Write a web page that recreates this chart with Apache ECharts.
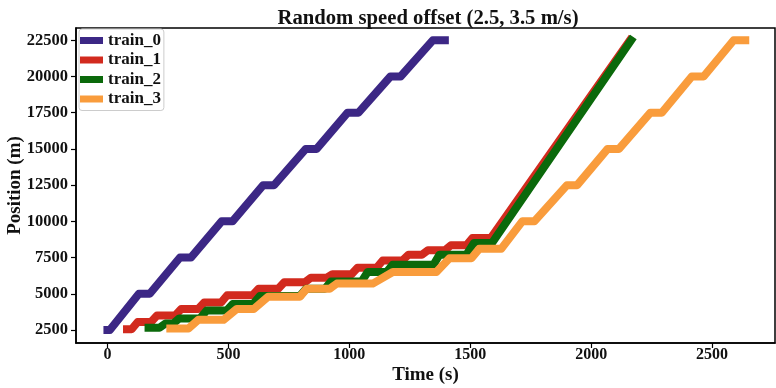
<!DOCTYPE html>
<html lang="en">

<head>
    <meta charset="UTF-8">
    <title>Random speed offset</title>
    <script type="text/javascript" src="https://cdn.jsdelivr.net/npm/echarts@6/dist/echarts.min.js"></script>
    <style>
        html, body { margin: 0; padding: 0; background: #fff; }
    </style>
</head>

<body>
    <div id="main" style="width: 776px;height:388px;"></div>
    <script type="text/javascript">
    // tick labels
    let xTicks = [0, 500, 1000, 1500, 2000, 2500];
    let yTicks = [2500, 5000, 7500, 10000, 12500, 15000, 17500, 20000, 22500];

    let names = ['train_0', 'train_1', 'train_2', 'train_3'];
    let colors = ['#3c2785', '#d22a1e', '#0b690b', '#f99c3c'];

    // time (s) / position (m)
    let train0Time = [0, 10, 130, 175, 300, 345, 472, 517, 644, 689, 820, 865, 993, 1038, 1170, 1212, 1345, 1395];
    let train0Pos = [2500, 2500, 5000, 5000, 7500, 7500, 10000, 10000, 12500, 12500, 15000, 15000, 17500, 17500, 20000, 20000, 22500, 22500];

    let train1Time = [81, 100, 125, 180, 205, 280, 305, 375, 400, 470, 495, 600, 625, 706, 731, 816, 841, 905, 930, 1009, 1034, 1113, 1138, 1220, 1245, 1300, 1325, 1395, 1420, 1484, 1509, 1585, 2160];
    let train1Pos = [2550, 2550, 3050, 3050, 3500, 3500, 3950, 3950, 4400, 4400, 4900, 4900, 5350, 5350, 5800, 5800, 6100, 6100, 6350, 6350, 6800, 6800, 7300, 7300, 7700, 7700, 8000, 8000, 8350, 8350, 8850, 8850, 22500];

    let train2Time = [170, 215, 240, 272, 297, 383, 410, 493, 518, 603, 630, 796, 821, 899, 924, 1051, 1076, 1154, 1179, 1348, 1373, 1484, 1515, 1590, 2165];
    let train2Pos = [2650, 2650, 2950, 2950, 3300, 3300, 3850, 3850, 4300, 4300, 4850, 4850, 5350, 5350, 5850, 5850, 6500, 6500, 7000, 7000, 7700, 7700, 8500, 8500, 22500];

    let train3Time = [260, 335, 376, 480, 535, 605, 664, 796, 824, 919, 948, 1097, 1180, 1360, 1414, 1505, 1537, 1628, 1715, 1765, 1900, 1942, 2068, 2115, 2245, 2292, 2416, 2465, 2589, 2637];
    let train3Pos = [2600, 2600, 3200, 3200, 3950, 3950, 4800, 4800, 5350, 5350, 5700, 5700, 6500, 6500, 7450, 7450, 8100, 8100, 10000, 10000, 12500, 12500, 15000, 15000, 17500, 17500, 20000, 20000, 22500, 22500];

    let times = [train0Time, train1Time, train2Time, train3Time];
    let positions = [train0Pos, train1Pos, train2Pos, train3Pos];

    let font = 'Liberation Serif, Times New Roman, serif';
    let plain = function (v) { return String(v); };

    let myChart = echarts.init(document.getElementById('main'), null, { renderer: 'canvas' });

    let series = names.map(function (name, i) {
        return {
            name: name,
            type: 'line',
            showSymbol: false,
            symbol: 'none',
            data: times[i].map(function (t, j) { return [t, positions[i][j]]; }),
            lineStyle: { width: 8, color: colors[i], cap: 'square', join: 'round' },
            itemStyle: { color: colors[i] }
        };
    });

    let option = {
        animation: false,
        backgroundColor: '#fff',
        title: {
            text: 'Random speed offset (2.5, 3.5 m/s)',
            left: 423,
            textAlign: 'center',
            top: 3,
            textStyle: { fontFamily: font, fontSize: 20.7, fontWeight: 'bold', color: '#111' }
        },
        legend: {
            data: names,
            orient: 'vertical',
            left: 79,
            top: 29,
            padding: [3, 3, 3, 1],
            itemWidth: 23,
            itemHeight: 7,
            itemGap: 2.5,
            icon: 'rect',
            borderColor: '#cccccc',
            borderWidth: 1,
            borderRadius: 3,
            backgroundColor: 'rgba(255,255,255,0.8)',
            textStyle: { fontFamily: font, fontSize: 17, fontWeight: 'bold', color: '#111', lineHeight: 17 }
        },
        grid: {
            left: 76,
            right: 1,
            top: 28,
            bottom: 45,
            show: true,
            borderColor: '#000',
            borderWidth: 1.5,
            containLabel: false,
            outerBoundsMode: 'none'
        },
        xAxis: {
            type: 'value',
            min: -130,
            max: 2760,
            name: 'Time (s)',
            nameLocation: 'middle',
            nameGap: 23,
            nameMoveOverlap: false,
            nameTextStyle: { fontFamily: font, fontSize: 19, fontWeight: 'bold', color: '#111' },
            splitLine: { show: false },
            axisLine: { show: true, onZero: false, lineStyle: { color: '#000', width: 1.5 } },
            axisTick: { show: true, length: 5, customValues: xTicks, lineStyle: { color: '#000', width: 1.2 } },
            axisLabel: { customValues: xTicks, formatter: plain, margin: 4, fontFamily: font, fontSize: 16, fontWeight: 'bold', color: '#111' }
        },
        yAxis: {
            type: 'value',
            min: 1600,
            max: 23350,
            name: 'Position (m)',
            nameLocation: 'middle',
            nameGap: 51,
            nameMoveOverlap: false,
            nameTextStyle: { fontFamily: font, fontSize: 19, fontWeight: 'bold', color: '#111' },
            splitLine: { show: false },
            axisLine: { show: true, onZero: false, lineStyle: { color: '#000', width: 1.5 } },
            axisTick: { show: true, length: 5, customValues: yTicks, lineStyle: { color: '#000', width: 1.2 } },
            axisLabel: { customValues: yTicks, formatter: plain, margin: 8, fontFamily: font, fontSize: 16.5, fontWeight: 'bold', color: '#111' }
        },
        series: series
    };

    myChart.setOption(option);
    </script>
</body>

</html>
